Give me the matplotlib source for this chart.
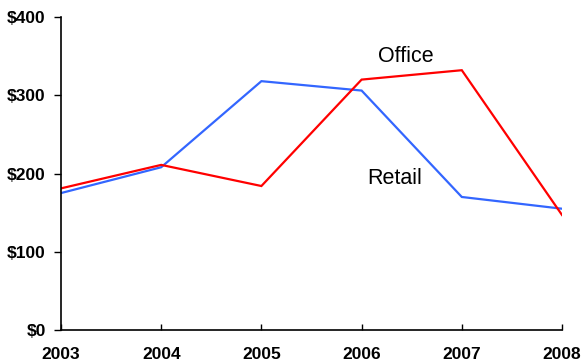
import matplotlib.pyplot as plt
from matplotlib.ticker import FuncFormatter

years = [2003, 2004, 2005, 2006, 2007, 2008]
office = [181, 211, 184, 320, 332, 147]
retail = [175, 208, 318, 306, 170, 155]
y_ticks = [0, 100, 200, 300, 400]

plt.rcParams['font.family'] = ['Liberation Sans', 'DejaVu Sans']

fig = plt.figure(figsize=(5.82, 3.62), dpi=100)
ax = fig.add_axes([61 / 582, 32 / 362, 501 / 582, 313 / 362])

ax.plot(years, retail, color='#3366ff', lw=1.6, solid_joinstyle='miter')
ax.plot(years, office, color='#ff0000', lw=1.6, solid_joinstyle='miter')

ax.text(2006.44, 350, 'Office', fontsize=15.5, ha='center', va='center')
ax.text(2006.33, 193, 'Retail', fontsize=15.5, ha='center', va='center')

ax.set_xlim(2003, 2008)
ax.set_ylim(0, 400)
ax.set_yticks(y_ticks)
ax.yaxis.set_major_formatter(FuncFormatter(lambda v, _: f'${v:.0f}'))
ax.set_xticks(years)

for side in ('top', 'right'):
    ax.spines[side].set_visible(False)
for side in ('left', 'bottom'):
    ax.spines[side].set_linewidth(1.2)

ax.tick_params(axis='y', direction='out', length=5, width=1, pad=6, labelsize=12.5)
ax.tick_params(axis='x', direction='in', length=4, width=1, pad=12.5, labelsize=12.5)
for lbl in ax.get_xticklabels() + ax.get_yticklabels():
    lbl.set_fontweight('bold')

fig.savefig('out.png', dpi=100)
